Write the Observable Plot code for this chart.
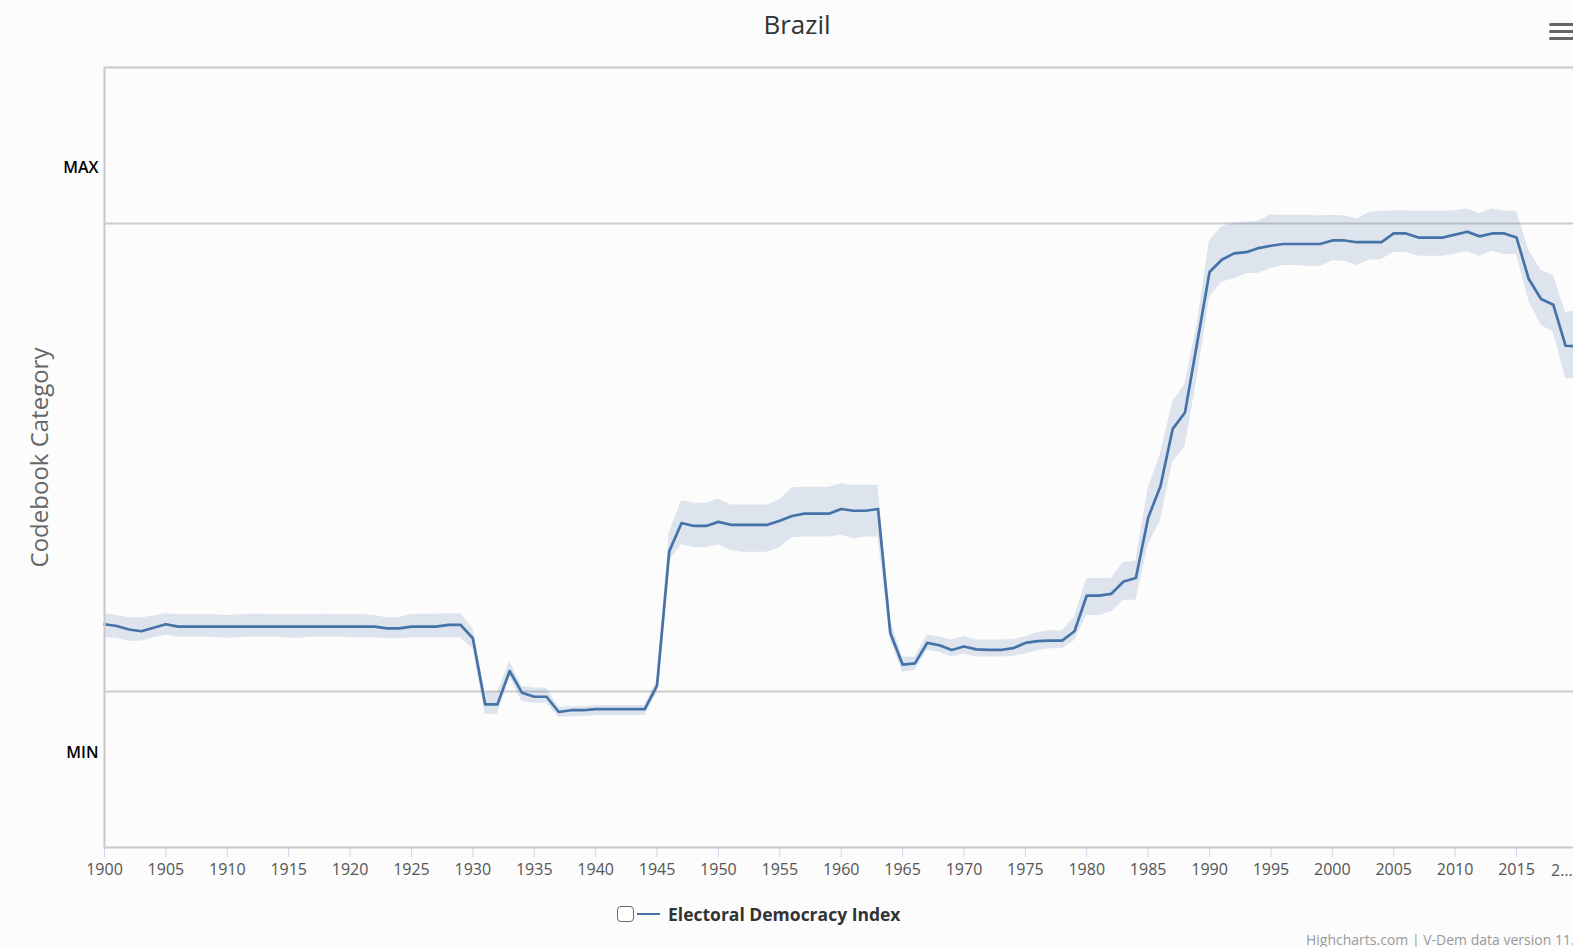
<!DOCTYPE html>
<html>
<head>
<meta charset="utf-8">
<script src="https://cdn.jsdelivr.net/npm/d3@7"></script>
<script src="https://cdn.jsdelivr.net/npm/@observablehq/plot@0.6"></script>
<style>
  html, body { margin: 0; padding: 0; background: #fcfcfc; overflow: hidden; }
  #wrap { position: relative; width: 1573px; height: 947px; overflow: hidden; font-family: "Open Sans", sans-serif; background: #fcfcfc; }
  #title { position: absolute; left: 0; top: 11px; width: 1594px; text-align: center; font-size: 26px; line-height: 26px; color: #333; }
  #chart { position: absolute; left: 0; top: 50px; width: 1578px; }
  #menu span { position: absolute; left: 1549px; width: 30px; height: 3px; border-radius: 2px; background: #666; }
  #legend { position: absolute; left: 617px; top: 903px; height: 22px; display: flex; align-items: center; }
  #legend .box { width: 15px; height: 14px; border: 1.4px solid #6a6a6a; border-radius: 4px; background: #fff; }
  #legend .swatch { width: 23px; height: 2.5px; background: #4572A7; margin-left: 3px; }
  #legend .label { margin-left: 8px; font-weight: bold; font-size: 17.5px; color: #333; white-space: nowrap; }
  #credits { position: absolute; left: 1306px; top: 932px; font-size: 14px; line-height: 16px; color: #999; white-space: nowrap; }
</style>
</head>
<body>
<div id="wrap">
  <div id="title">Brazil</div>
  <div id="menu"><span style="top:22.5px"></span><span style="top:29.5px"></span><span style="top:36.5px"></span></div>
  <div id="chart"></div>
  <div id="legend"><div class="box"></div><div class="swatch"></div><div class="label">Electoral Democracy Index</div></div>
  <div id="credits">Highcharts.com | V-Dem data version 11.1</div>
</div>
<script>
// ---- data (Electoral Democracy Index, Brazil, 1900-2020) ----
const years = d3.range(1900, 2021);
const edi = [
  0.215, 0.212, 0.206, 0.203, 0.209, 0.215, 0.211, 0.211, 0.211, 0.211,
  0.211, 0.211, 0.211, 0.211, 0.211, 0.211, 0.211, 0.211, 0.211, 0.211,
  0.211, 0.211, 0.211, 0.208, 0.208, 0.211, 0.211, 0.211, 0.214, 0.214,
  0.191, 0.078, 0.078, 0.135, 0.098, 0.091, 0.091, 0.065, 0.068, 0.068,
  0.070, 0.070, 0.070, 0.070, 0.070, 0.110, 0.340, 0.388, 0.383, 0.383,
  0.390, 0.385, 0.385, 0.385, 0.385, 0.392, 0.400, 0.404, 0.404, 0.404,
  0.412, 0.409, 0.409, 0.412, 0.200, 0.146, 0.148, 0.183, 0.179, 0.171,
  0.177, 0.172, 0.171, 0.171, 0.174, 0.183, 0.186, 0.187, 0.187, 0.203,
  0.264, 0.264, 0.267, 0.288, 0.294, 0.397, 0.451, 0.549, 0.577, 0.697,
  0.817, 0.838, 0.849, 0.851, 0.858, 0.862, 0.865, 0.865, 0.865, 0.865,
  0.871, 0.871, 0.868, 0.868, 0.868, 0.883, 0.883, 0.876, 0.876, 0.876,
  0.881, 0.886, 0.878, 0.883, 0.883, 0.876, 0.805, 0.771, 0.761, 0.691,
  0.690
];
const ediHigh = [
  0.233, 0.230, 0.226, 0.226, 0.229, 0.233, 0.231, 0.231, 0.231, 0.231,
  0.230, 0.231, 0.232, 0.232, 0.231, 0.231, 0.231, 0.231, 0.232, 0.231,
  0.231, 0.231, 0.230, 0.226, 0.226, 0.232, 0.232, 0.232, 0.233, 0.233,
  0.208, 0.098, 0.098, 0.151, 0.109, 0.106, 0.106, 0.073, 0.074, 0.074,
  0.076, 0.076, 0.076, 0.076, 0.076, 0.119, 0.372, 0.426, 0.422, 0.422,
  0.429, 0.419, 0.419, 0.419, 0.419, 0.428, 0.448, 0.449, 0.449, 0.449,
  0.455, 0.452, 0.453, 0.452, 0.221, 0.159, 0.159, 0.196, 0.193, 0.188,
  0.194, 0.188, 0.188, 0.188, 0.189, 0.193, 0.201, 0.204, 0.204, 0.227,
  0.293, 0.293, 0.293, 0.321, 0.323, 0.447, 0.506, 0.595, 0.626, 0.729,
  0.871, 0.894, 0.901, 0.902, 0.904, 0.915, 0.914, 0.914, 0.914, 0.913,
  0.914, 0.913, 0.908, 0.919, 0.921, 0.922, 0.922, 0.921, 0.921, 0.921,
  0.922, 0.925, 0.917, 0.925, 0.921, 0.921, 0.854, 0.820, 0.811, 0.748,
  0.751
];
const ediLow = [
  0.192, 0.191, 0.186, 0.186, 0.192, 0.196, 0.193, 0.193, 0.193, 0.192,
  0.191, 0.192, 0.193, 0.193, 0.193, 0.191, 0.191, 0.193, 0.193, 0.193,
  0.192, 0.192, 0.192, 0.190, 0.190, 0.192, 0.192, 0.192, 0.192, 0.192,
  0.173, 0.061, 0.061, 0.124, 0.083, 0.080, 0.080, 0.056, 0.057, 0.057,
  0.059, 0.059, 0.059, 0.059, 0.059, 0.097, 0.324, 0.351, 0.346, 0.346,
  0.351, 0.341, 0.338, 0.338, 0.338, 0.346, 0.363, 0.364, 0.364, 0.364,
  0.367, 0.361, 0.364, 0.364, 0.187, 0.133, 0.136, 0.170, 0.167, 0.159,
  0.164, 0.159, 0.159, 0.159, 0.160, 0.164, 0.170, 0.173, 0.173, 0.187,
  0.230, 0.230, 0.236, 0.256, 0.256, 0.350, 0.392, 0.492, 0.518, 0.637,
  0.774, 0.800, 0.805, 0.814, 0.815, 0.823, 0.828, 0.828, 0.827, 0.826,
  0.836, 0.836, 0.828, 0.837, 0.838, 0.851, 0.851, 0.844, 0.844, 0.844,
  0.848, 0.852, 0.844, 0.853, 0.847, 0.847, 0.768, 0.726, 0.714, 0.635,
  0.635
];
const xTicks = [1900, 1905, 1910, 1915, 1920, 1925, 1930, 1935, 1940, 1945, 1950, 1955,
                1960, 1965, 1970, 1975, 1980, 1985, 1990, 1995, 2000, 2005, 2010, 2015];
const truncatedTick = {year: 2020, label: "2…"};
const yTicks = [0, 1];
const yTickLabels = ["MIN", "MAX"];
const gridValues = [0.1, 0.9];
const yAxisTitle = "Codebook Category";

const data = years.map((year, i) => ({year, edi: edi[i], hi: ediHigh[i], lo: ediLow[i]}));

const lineColor = "#4572A7";

const chart = Plot.plot({
  width: 1578,
  height: 832,
  marginTop: 17,
  marginBottom: 35,
  marginLeft: 104,
  marginRight: 0.6,
  style: {background: "transparent", fontFamily: "Open Sans, sans-serif", overflow: "visible", maxWidth: "none"},
  x: {domain: [1900, 2020], label: null},
  y: {domain: [-1/6, 7/6], label: null},
  marks: [
    Plot.ruleY(gridValues, {stroke: "#cccccc", strokeWidth: 2}),
    Plot.areaY(data, {x: "year", y1: "lo", y2: "hi", fill: lineColor, fillOpacity: 0.17}),
    Plot.lineY(data, {x: "year", y: "edi", stroke: lineColor, strokeWidth: 2.7, strokeLinejoin: "round"}),
    Plot.frame({stroke: "#c9c9c9", strokeWidth: 2}),
    Plot.axisX({ticks: xTicks, tickFormat: d => String(d), tickSize: 10, tickPadding: 6, label: null,
                stroke: "#ccd6eb", fill: "#555", fontSize: 16}),
    Plot.text([truncatedTick], {x: "year", text: "label", frameAnchor: "bottom", dy: 23, dx: -16,
                fill: "#555", fontSize: 16, lineAnchor: "middle"}),
    Plot.axisY({ticks: yTicks, tickFormat: d => yTickLabels[yTicks.indexOf(d)], tickSize: 0, tickPadding: 6,
                label: null, fill: "#000", fontSize: 16, fontWeight: 600, dy: 2.5}),
    Plot.text([yAxisTitle], {text: d => d, frameAnchor: "left", dx: -64, rotate: -90,
                textAnchor: "middle", fill: "#666", fontSize: 24})
  ]
});
document.getElementById("chart").appendChild(chart);
</script>
</body>
</html>
